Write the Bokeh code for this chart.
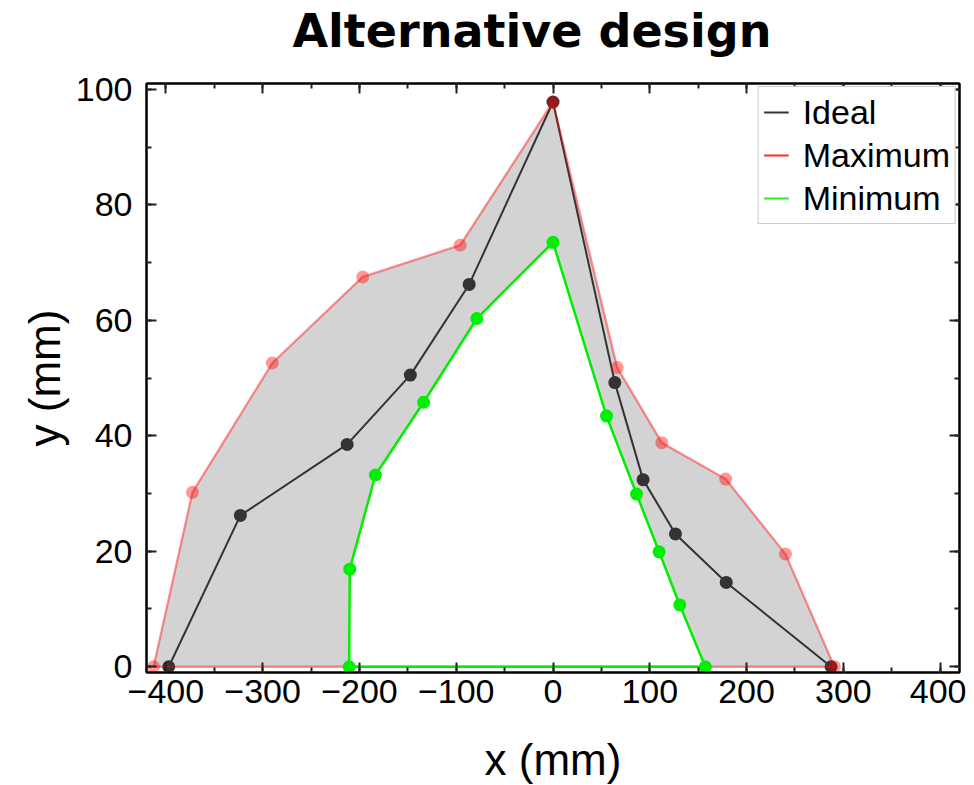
from bokeh.plotting import figure
from bokeh.models import Range1d, LinearAxis, SingleIntervalTicker, Legend, LegendItem
from bokeh.embed import file_html
from bokeh.resources import INLINE

# ---- data ----
ideal_x = [-397, -323, -212.7, -147.4, -86.6, 0, 63.9, 93.1, 126.5, 179, 287.3]
ideal_y = [0, 26.2, 38.5, 50.5, 66.2, 97.8, 49.2, 32.4, 23.0, 14.6, 0]

max_x = [-412.7, -372.5, -290, -196.6, -95.9, 0, 66.3, 112.4, 178.4, 240.2, 290.7]
max_y = [0, 30.2, 52.6, 67.5, 73.0, 97.8, 51.8, 38.8, 32.5, 19.5, 0]

min_x = [-210.6, -210, -183.5, -133.7, -78.7, 0, 55.3, 86.3, 109.6, 131, 157.4]
min_y = [0, 16.9, 33.2, 45.8, 60.3, 73.5, 43.4, 29.9, 19.9, 10.7, 0]

series_names = ["Ideal", "Maximum", "Minimum"]
title_text = "Alternative design"

# closed outlines (back along y = 0)
max_xc = max_x + [max_x[0]]
max_yc = max_y + [max_y[0]]
min_xc = min_x + [min_x[0]]
min_yc = min_y + [min_y[0]]

TICK_FONT = "Liberation Sans"
FRAME_W, FRAME_H = 813, 589

p = figure(frame_width=FRAME_W, frame_height=FRAME_H,
           x_range=Range1d(-420, 420), y_range=Range1d(-1, 101),
           output_backend="svg", toolbar_location=None,
           min_border_left=146, min_border_right=7,
           min_border_top=83, min_border_bottom=113,
           x_axis_label="x (mm)", y_axis_label="y (mm)")
p.xgrid.visible = False
p.ygrid.visible = False
p.outline_line_color = "black"
p.outline_line_width = 2
p.background_fill_color = "white"
p.border_fill_color = "white"

bottom_ax = p.below[0]
left_ax = p.left[0]

xt = SingleIntervalTicker(interval=100, num_minor_ticks=2)
yt = SingleIntervalTicker(interval=20, num_minor_ticks=2)
bottom_ax.ticker = xt
left_ax.ticker = yt

top_ax = LinearAxis(ticker=xt, major_label_text_font_size="1px",
                    major_label_text_color=None,
                    major_label_standoff=0, axis_label=None)
right_ax = LinearAxis(ticker=yt, major_label_text_font_size="1px",
                      major_label_text_color=None,
                      major_label_standoff=0, axis_label=None)
p.add_layout(top_ax, "above")
p.add_layout(right_ax, "right")

for ax in (bottom_ax, left_ax, top_ax, right_ax):
    ax.axis_line_color = "black"
    ax.axis_line_width = 2
    ax.major_tick_in = 10
    ax.major_tick_out = 0
    ax.minor_tick_in = 5
    ax.minor_tick_out = 0
    ax.major_tick_line_width = 2
    ax.minor_tick_line_width = 2
    ax.major_tick_line_color = "#222222"
    ax.minor_tick_line_color = "#222222"

# invisible spacer between the frame and the title
spacer = LinearAxis(ticker=xt, axis_line_color=None,
                    major_tick_line_color=None, minor_tick_line_color=None,
                    major_tick_in=0, major_tick_out=26,
                    minor_tick_in=0, minor_tick_out=0,
                    major_label_text_font_size="1px",
                    major_label_text_color=None,
                    major_label_standoff=0, axis_label=None)
p.add_layout(spacer, "above")

for ax in (bottom_ax, left_ax):
    ax.major_label_text_font = TICK_FONT
    ax.major_label_text_font_size = "34px"
    ax.major_label_text_color = "black"
    ax.axis_label_text_font = TICK_FONT
    ax.axis_label_text_font_size = "44px"
    ax.axis_label_text_font_style = "normal"
    ax.axis_label_text_color = "black"

bottom_ax.major_label_standoff = 7
bottom_ax.axis_label_standoff = 29
left_ax.major_label_standoff = 14
left_ax.axis_label_standoff = 4

# title
p.title.text = title_text
p.title.text_font = "DejaVu Sans"
p.title.text_font_style = "bold"
p.title.text_font_size = "46px"
p.title.align = "left"
p.title.offset = 146
p.title.standoff = 0
p.title.text_color = "black"

# gray band between maximum and minimum outlines
p.multi_polygons(xs=[[[max_xc, min_xc]]], ys=[[[max_yc, min_yc]]],
                 fill_color="#d3d3d3", line_color=None)

# ideal
p.line(ideal_x, ideal_y, line_color="#333333", line_width=2)
p.scatter(ideal_x, ideal_y, size=13, fill_color="#333333", line_color=None)

# maximum
p.line(max_xc, max_yc, line_color="#ff0000", line_alpha=0.42, line_width=2.3)
p.scatter(max_x, max_y, size=13, fill_color="#ff0000", fill_alpha=0.4, line_color=None)

# minimum
p.line(min_xc, min_yc, line_color="#00ee00", line_width=2.5)
p.scatter(min_x, min_y, size=13, fill_color="#00ee00", line_color=None)

# legend (solid swatches; one-point lines draw nothing in the plot)
r_i = p.line(x=ideal_x[:1], y=ideal_y[:1], line_color="#333333", line_width=2)
r_m = p.line(x=max_x[:1], y=max_y[:1], line_color="#ff2a2a", line_width=2)
r_n = p.line(x=min_x[:1], y=min_y[:1], line_color="#22ee22", line_width=2)
legend = Legend(items=[LegendItem(label=series_names[0], renderers=[r_i]),
                       LegendItem(label=series_names[1], renderers=[r_m]),
                       LegendItem(label=series_names[2], renderers=[r_n])],
                location="top_right",
                label_text_font=TICK_FONT, label_text_font_size="34px",
                label_text_color="black",
                glyph_width=25, glyph_height=40, label_height=40,
                spacing=3, padding=5, margin=3, label_standoff=14,
                border_line_color="#999999", border_line_width=1.5,
                background_fill_color="white", background_fill_alpha=1.0)
p.add_layout(legend)

open("out.html", "w").write(file_html(p, INLINE))
